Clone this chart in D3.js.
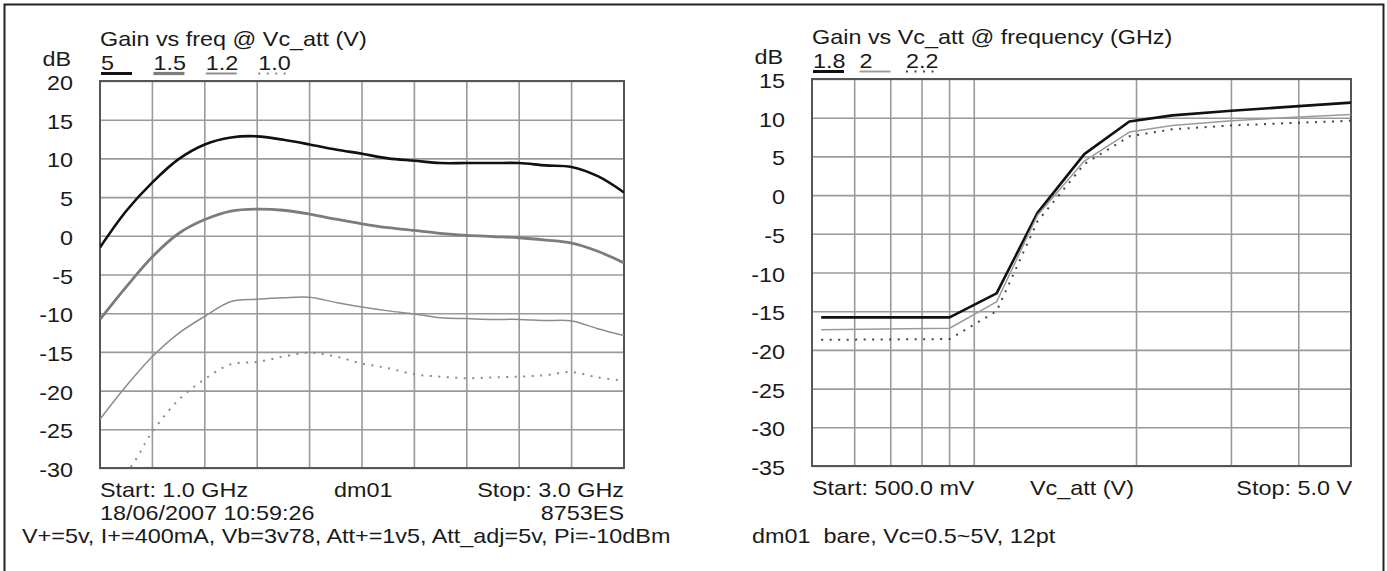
<!DOCTYPE html>
<html><head><meta charset="utf-8">
<script src="https://cdn.jsdelivr.net/npm/d3@7/dist/d3.min.js"></script>
<style>
body{margin:0;background:#fff}
svg{display:block}
text{font-family:"Liberation Sans",Arial,sans-serif;fill:#1a1a1a}
</style>
</head><body>
<svg id="c" width="1387" height="571"></svg>
<script>
// ---------- Left chart data: Gain vs freq @ Vc_att ----------
const freqGHz = [1.0,1.1,1.2,1.3,1.4,1.5,1.6,1.7,1.8,1.9,2.0,2.1,2.2,2.3,2.4,2.5,2.6,2.7,2.8,2.9,3.0];
const gain5V   = [-1.5,3.2,6.9,9.9,11.8,12.7,12.85,12.4,11.8,11.15,10.6,10.0,9.7,9.4,9.4,9.4,9.4,9.1,8.9,7.7,5.6];
const gain1v5  = [-10.8,-6.6,-2.7,0.3,2.1,3.2,3.45,3.3,2.8,2.15,1.55,1.05,0.7,0.3,0.05,-0.1,-0.25,-0.55,-0.95,-2.0,-3.5];
const gain1v2  = [-23.7,-19.4,-15.6,-12.6,-10.4,-8.5,-8.2,-8.0,-7.95,-8.6,-9.2,-9.7,-10.1,-10.6,-10.7,-10.8,-10.8,-10.95,-11.0,-12.0,-12.9];
const gain1v0  = [-31.5,-30.4,-25.3,-21.2,-18.5,-16.6,-16.3,-15.6,-15.1,-15.6,-16.5,-17.1,-17.9,-18.2,-18.4,-18.3,-18.2,-18.0,-17.6,-18.3,-18.7];
const leftYTicks = [20,15,10,5,0,-5,-10,-15,-20,-25,-30];
const leftXGrid = [1.0,1.2,1.4,1.6,1.8,2.0,2.2,2.4,2.6,2.8,3.0];
const leftLegend = ["5","1.5","1.2","1.0"];

// ---------- Right chart data: Gain vs Vc_att @ frequency ----------
const vcAtt   = [0.52,0.9,1.1,1.31,1.6,1.94,2.33,3.0,4.0,5.0];
const gain1g8 = [-15.8,-15.8,-12.7,-2.3,5.3,9.5,10.3,10.9,11.5,11.95];
const gain2g0 = [-17.4,-17.2,-13.8,-2.6,4.4,8.15,9.0,9.6,10.1,10.4];
const gain2g2 = [-18.7,-18.6,-15.0,-3.4,4.0,7.6,8.5,9.0,9.35,9.6];
const rightYTicks = [15,10,5,0,-5,-10,-15,-20,-25,-30,-35];
const rightXGrid = [0.5,0.6,0.7,0.8,0.9,1,2,3,4,5];
const rightLegend = ["1.8","2","2.2"];

const FS = 20, SX = 1.17;   // font size and horizontal stretch of the scanned lettering
const svg = d3.select("#c");
svg.append("rect").attr("x",4.5).attr("y",4.5).attr("width",1379).attr("height",590)
  .attr("fill","none").attr("stroke","#222").attr("stroke-width",2);

function label(parent,x,y,str,anchor,size){
  const g = parent.append("g").attr("transform",`translate(${x},${y}) scale(${SX},1)`);
  return g.append("text").attr("text-anchor",anchor||"start").attr("font-size",size||FS)
    .attr("xml:space","preserve").style("white-space","pre").text(str);
}

const styles = {
  thickBlack:{stroke:"#111",w:2.6,dash:null},
  thickGray:{stroke:"#7c7c7c",w:2.8,dash:null},
  thinGray:{stroke:"#8c8c8c",w:1.5,dash:null},
  dottedL:{stroke:"#8a8a8a",w:2,dash:"2,6.5"},
  thinGray2:{stroke:"#9a9a9a",w:1.5,dash:null},
  dottedR:{stroke:"#444",w:2,dash:"2,6.5"}
};

function panel(o){
  const g = svg.append("g");
  const x = o.xScale, y = o.yScale;
  const [x0,x1] = x.range(), [y1,y0] = y.range();
  const cid = "clip"+o.id;
  svg.append("clipPath").attr("id",cid).append("rect")
    .attr("x",x0).attr("y",y0).attr("width",x1-x0).attr("height",y1-y0);
  // vertical grid
  g.selectAll(".vg").data(o.xGrid).join("line")
    .attr("x1",d=>x(d)).attr("x2",d=>x(d)).attr("y1",y0).attr("y2",y1)
    .attr("stroke","#9a9a9a").attr("stroke-width",1.6);
  // horizontal grid via axis
  const yAxis = d3.axisLeft(y).tickValues(o.yTicks).tickSize(-(x1-x0)).tickFormat("");
  const ya = g.append("g").attr("transform",`translate(${x0},0)`).call(yAxis);
  ya.select(".domain").remove();
  ya.selectAll(".tick line").attr("stroke","#9a9a9a").attr("stroke-width",1.6);
  // tick labels
  o.yTicks.forEach(d=>label(g,x0-27,y(d)+9,String(d),"end"));
  // frame
  g.append("rect").attr("x",x0).attr("y",y0).attr("width",x1-x0).attr("height",y1-y0)
    .attr("fill","none").attr("stroke","#555").attr("stroke-width",2);
  // series
  const line = d3.line().x((d,i)=>x(o.xs[i])).y(d=>y(d)).curve(o.curve);
  o.series.forEach(s=>{
    const st = styles[s.style];
    g.append("path").attr("d",line(s.values)).attr("clip-path",`url(#${cid})`)
      .attr("fill","none").attr("stroke",st.stroke).attr("stroke-width",st.w)
      .attr("stroke-dasharray",st.dash).attr("stroke-linejoin","round");
  });
  // titles
  label(g,x0,o.titleY,o.title);
  label(g,x0-29,o.titleY+20,"dB","end");
  // legend
  o.series.forEach((s,i)=>{
    const lx = x0 + 1 + i*o.legStep;
    const st = styles[s.style];
    label(g,lx,o.titleY+24,o.legend[i]);
    g.append("line").attr("x1",lx).attr("x2",lx+31).attr("y1",o.titleY+27.5).attr("y2",o.titleY+27.5)
      .attr("stroke",st.stroke).attr("stroke-width",st.w+(st.dash?0:0.4)).attr("stroke-dasharray",st.dash);
  });
  return g;
}

// Left
const xL = d3.scaleLinear().domain([1.0,3.0]).range([100,624]);
const yL = d3.scaleLinear().domain([-30,20]).range([468,81]);
panel({id:"L",xScale:xL,yScale:yL,xGrid:leftXGrid,yTicks:leftYTicks,xs:freqGHz,curve:d3.curveCatmullRom,
  series:[{values:gain5V,style:"thickBlack"},{values:gain1v5,style:"thickGray"},{values:gain1v2,style:"thinGray"},{values:gain1v0,style:"dottedL"}],
  legend:leftLegend,legStep:52.4,title:"Gain vs freq @ Vc_att (V)",titleY:46});

// Right
const xR = d3.scaleLog().domain([0.5,5]).range([812,1351]);
const yR = d3.scaleLinear().domain([-35,15]).range([466,79]);
panel({id:"R",xScale:xR,yScale:yR,xGrid:rightXGrid,yTicks:rightYTicks,xs:vcAtt,curve:d3.curveLinear,
  series:[{values:gain1g8,style:"thickBlack"},{values:gain2g0,style:"thinGray2"},{values:gain2g2,style:"dottedR"}],
  legend:rightLegend,legStep:46.5,title:"Gain vs Vc_att @ frequency (GHz)",titleY:44});

// Footer texts
label(svg,100,497,"Start: 1.0 GHz");
label(svg,334,497,"dm01");
label(svg,624,497,"Stop: 3.0 GHz","end");
label(svg,100,520,"18/06/2007 10:59:26");
label(svg,624,520,"8753ES","end");
label(svg,22,543,"V+=5v, I+=400mA, Vb=3v78, Att+=1v5, Att_adj=5v, Pi=-10dBm");
label(svg,812,495,"Start: 500.0 mV");
label(svg,1030,495,"Vc_att (V)");
label(svg,1352,495,"Stop: 5.0 V","end");
label(svg,752,543,"dm01  bare, Vc=0.5~5V, 12pt");
</script>
</body></html>
